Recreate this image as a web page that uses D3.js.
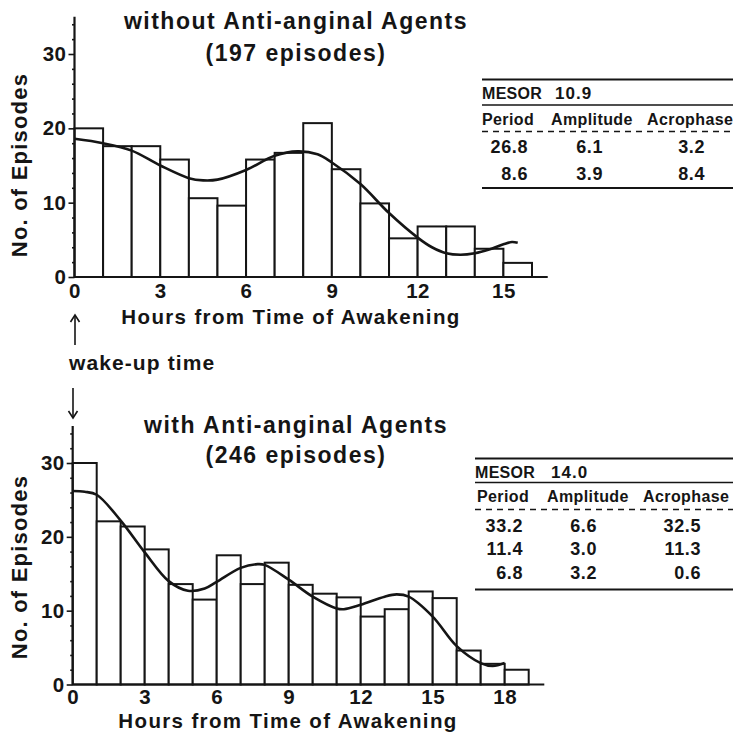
<!DOCTYPE html>
<html lang="en">
<head>
<meta charset="utf-8">
<title>Ischemic episodes by hours from awakening</title>
<script src="https://cdn.jsdelivr.net/npm/d3@7/dist/d3.min.js"></script>
<style>
  body { margin: 0; background: #fff; }
  svg { display: block; font-family: "Liberation Sans", Arial, Helvetica, sans-serif; }
  .lbl { font-weight: bold; fill: #151515; }
</style>
</head>
<body>
<script>
// ---- data ----
// episodes per 1-hour bin, starting at hour 0
var withoutCounts = [20, 17.6, 17.6, 15.8, 10.6, 9.6, 15.8, 16.7, 20.7, 14.5, 9.9, 5.2, 6.8, 6.8, 3.8, 1.9];
var withCounts = [30, 22.1, 21.4, 18.3, 13.6, 11.5, 17.5, 13.6, 16.5, 13.5, 12.3, 11.8, 9.2, 10.2, 12.6, 11.7, 4.6, 2.8, 2.0];

// fitted cosinor curve, [hour, episodes]
var withoutFit = [[0, 18.6], [1, 18.0], [2, 17.0], [3, 15.0], [4, 13.3], [4.5, 13.0], [5, 13.1], [6, 14.4],
  [7, 16.3], [7.8, 16.9], [8.5, 16.5], [9, 15.4], [10, 12.5], [11, 8.6], [12, 5.3], [12.5, 4.0], [13, 3.2],
  [13.5, 3.0], [14, 3.2], [14.5, 3.7], [15, 4.4], [15.3, 4.7], [15.5, 4.6]];
var withFit = [[0, 26.2], [0.5, 26.1], [1, 25.7], [2, 22.2], [3, 17.9], [4, 14.0], [4.8, 12.7], [5.5, 13.0],
  [6, 13.9], [7, 15.8], [7.7, 16.3], [8, 16.2], [9, 14.2], [10, 11.9], [11, 10.3], [11.3, 10.2], [12, 10.8],
  [13, 11.9], [13.5, 12.2], [14, 11.9], [15, 9.2], [16, 5.2], [17, 2.9], [17.5, 2.5], [18, 2.9]];

var yTicks = [0, 10, 20, 30];
var yMinorTicks = [2, 4, 6, 8, 12, 14, 16, 18, 22, 24, 26, 28, 32, 34];
var withoutXTicks = [0, 3, 6, 9, 12, 15];
var withXTicks = [0, 3, 6, 9, 12, 15, 18];

var withoutTitle = ["without Anti-anginal Agents", "(197 episodes)"];
var withTitle = ["with Anti-anginal Agents", "(246 episodes)"];

var tableHeader = ["Period", "Amplitude", "Acrophase"];
var withoutMesor = "10.9";
var withoutRows = [["26.8", "6.1", "3.2"], ["8.6", "3.9", "8.4"]];
var withMesor = "14.0";
var withRows = [["33.2", "6.6", "32.5"], ["11.4", "3.0", "11.3"], ["6.8", "3.2", "0.6"]];

// ---- drawing ----
var width = 733, height = 732;
var ink = "#151515";

var svg = d3.select("body").append("svg")
  .attr("width", width)
  .attr("height", height);

function panel(opt) {
  var x = d3.scaleLinear().domain([0, opt.hours]).range([opt.left, opt.right]);
  var y = d3.scaleLinear().domain([0, 30]).range([opt.base, opt.top30]);
  var g = svg.append("g");

  // bars
  g.selectAll("rect")
    .data(opt.counts)
    .enter()
    .append("rect")
    .attr("x", function(d, i) { return x(i); })
    .attr("y", function(d) { return y(d); })
    .attr("width", function(d, i) { return x(i + 1) - x(i); })
    .attr("height", function(d) { return y(0) - y(d); })
    .attr("fill", "#fff")
    .attr("stroke", ink)
    .attr("stroke-width", 2);

  // fitted curve
  var line = d3.line()
    .x(function(d) { return x(d[0]); })
    .y(function(d) { return y(d[1]); })
    .curve(d3.curveCatmullRom.alpha(0.5));
  g.append("path")
    .datum(opt.fit)
    .attr("d", line)
    .attr("fill", "none")
    .attr("stroke", ink)
    .attr("stroke-width", 2.6);

  // y axis (major + minor ticks)
  var yAxis = g.append("g")
    .attr("transform", "translate(" + opt.left + ",0)")
    .call(d3.axisLeft(y).tickValues(yTicks).tickSize(6).tickPadding(2));
  yAxis.select(".domain").remove();
  g.append("g")
    .attr("transform", "translate(" + opt.left + ",0)")
    .call(d3.axisLeft(y).tickValues(yMinorTicks).tickSize(2.5).tickFormat(""))
    .select(".domain").remove();
  g.append("line")
    .attr("x1", opt.left).attr("x2", opt.left)
    .attr("y1", y(0)).attr("y2", y(35))
    .attr("stroke", ink).attr("stroke-width", 2.2);

  // x axis
  var xAxis = g.append("g")
    .attr("transform", "translate(0," + opt.base + ")")
    .call(d3.axisBottom(x).tickValues(opt.xTicks).tickSize(0).tickPadding(opt.tickPad));
  xAxis.select(".domain").remove();
  g.append("line")
    .attr("x1", opt.left).attr("x2", x(opt.axisEnd))
    .attr("y1", y(0)).attr("y2", y(0))
    .attr("stroke", ink).attr("stroke-width", 2.2);

  g.selectAll(".tick line").attr("stroke", ink).attr("stroke-width", 1.6);
  g.selectAll(".tick text")
    .attr("class", "lbl")
    .style("font-size", "20.5px")
    .style("letter-spacing", "0.5px")
    .attr("fill", ink);

  // titles
  g.selectAll(".title")
    .data(opt.title)
    .enter()
    .append("text")
    .attr("class", "lbl title")
    .attr("x", opt.titleX)
    .attr("y", function(d, i) { return opt.titleY[i]; })
    .attr("text-anchor", "middle")
    .style("font-size", "23px")
    .style("letter-spacing", "1.5px")
    .text(function(d) { return d; });

  g.append("text")
    .attr("class", "lbl")
    .attr("transform", "translate(" + opt.yLabelX + "," + opt.yLabelY + ") rotate(-90)")
    .attr("text-anchor", "middle")
    .style("font-size", "22px")
    .style("letter-spacing", "1.2px")
    .text("No. of Episodes");

  g.append("text")
    .attr("class", "lbl")
    .attr("x", opt.xLabelX)
    .attr("y", opt.xLabelY)
    .attr("text-anchor", "middle")
    .style("font-size", "20.5px")
    .style("letter-spacing", "1.35px")
    .text("Hours from Time of Awakening");
}

function table(opt) {
  var g = svg.append("g");
  var x1 = opt.left, x2 = width;
  g.append("line").attr("x1", x1).attr("x2", x2).attr("y1", opt.lines[0]).attr("y2", opt.lines[0])
    .attr("stroke", ink).attr("stroke-width", 2.2);
  g.append("line").attr("x1", x1).attr("x2", x2).attr("y1", opt.lines[1]).attr("y2", opt.lines[1])
    .attr("stroke", ink).attr("stroke-width", 1.6);
  g.append("line").attr("x1", x1).attr("x2", x2).attr("y1", opt.lines[2]).attr("y2", opt.lines[2])
    .attr("stroke", ink).attr("stroke-width", 1.4).attr("stroke-dasharray", "6,5");
  g.append("line").attr("x1", x1).attr("x2", x2).attr("y1", opt.lines[3]).attr("y2", opt.lines[3])
    .attr("stroke", ink).attr("stroke-width", 2);

  g.append("text").attr("class", "lbl")
    .attr("x", opt.left).attr("y", opt.mesorY)
    .style("font-size", "16px").style("letter-spacing", "0.3px")
    .text("MESOR");
  g.append("text").attr("class", "lbl")
    .attr("x", opt.mesorValX).attr("y", opt.mesorY)
    .style("font-size", "17px").style("letter-spacing", "1px")
    .text(opt.mesor);

  g.selectAll(".hdr")
    .data(tableHeader)
    .enter()
    .append("text")
    .attr("class", "lbl hdr")
    .attr("x", function(d, i) { return opt.headX[i]; })
    .attr("y", opt.headY)
    .style("font-size", "16px")
    .style("letter-spacing", "0.4px")
    .text(function(d) { return d; });

  opt.rows.forEach(function(row, r) {
    g.selectAll(".r" + r)
      .data(row)
      .enter()
      .append("text")
      .attr("class", "lbl r" + r)
      .attr("x", function(d, i) { return opt.colRight[i]; })
      .attr("y", opt.rowY[r])
      .attr("text-anchor", "end")
      .style("font-size", "18px")
      .style("letter-spacing", "0.6px")
      .text(function(d) { return d; });
  });
}

panel({
  counts: withoutCounts, fit: withoutFit, xTicks: withoutXTicks, title: withoutTitle,
  hours: 16, axisEnd: 16.55, left: 74.5, right: 532, base: 277, top30: 54, tickPad: 6,
  titleX: 296, titleY: [29, 61], yLabelX: 27, yLabelY: 165, xLabelX: 291, xLabelY: 324
});

panel({
  counts: withCounts, fit: withFit, xTicks: withXTicks, title: withTitle,
  hours: 19, axisEnd: 19.65, left: 72.7, right: 528.7, base: 684.5, top30: 463, tickPad: 4.5,
  titleX: 296, titleY: [433, 463], yLabelX: 27, yLabelY: 567, xLabelX: 288, xLabelY: 727.5
});

table({
  left: 482, lines: [79.5, 105, 131.5, 188], mesor: withoutMesor, mesorY: 99, mesorValX: 555,
  headX: [482, 551, 647], headY: 125, rows: withoutRows, rowY: [153, 180], colRight: [528, 603, 705]
});

table({
  left: 475, lines: [458.5, 482.5, 509.5, 589.5], mesor: withMesor, mesorY: 477.5, mesorValX: 551,
  headX: [477, 547, 643], headY: 502, rows: withRows, rowY: [531.5, 555, 578.5], colRight: [523, 597, 701]
});

// wake-up time marker between the panels
var marker = svg.append("g").attr("stroke", ink).attr("stroke-width", 1.6).attr("fill", "none");
marker.append("line").attr("x1", 75).attr("x2", 75).attr("y1", 315).attr("y2", 345);
marker.append("path").attr("d", "M70.5,322 L75,315 L79.5,322");
marker.append("line").attr("x1", 73).attr("x2", 73).attr("y1", 388).attr("y2", 418);
marker.append("path").attr("d", "M68.5,411 L73,418 L77.5,411");

svg.append("text")
  .attr("class", "lbl")
  .attr("x", 69)
  .attr("y", 370)
  .style("font-size", "21px")
  .style("letter-spacing", "1.1px")
  .text("wake-up time");
</script>
</body>
</html>
